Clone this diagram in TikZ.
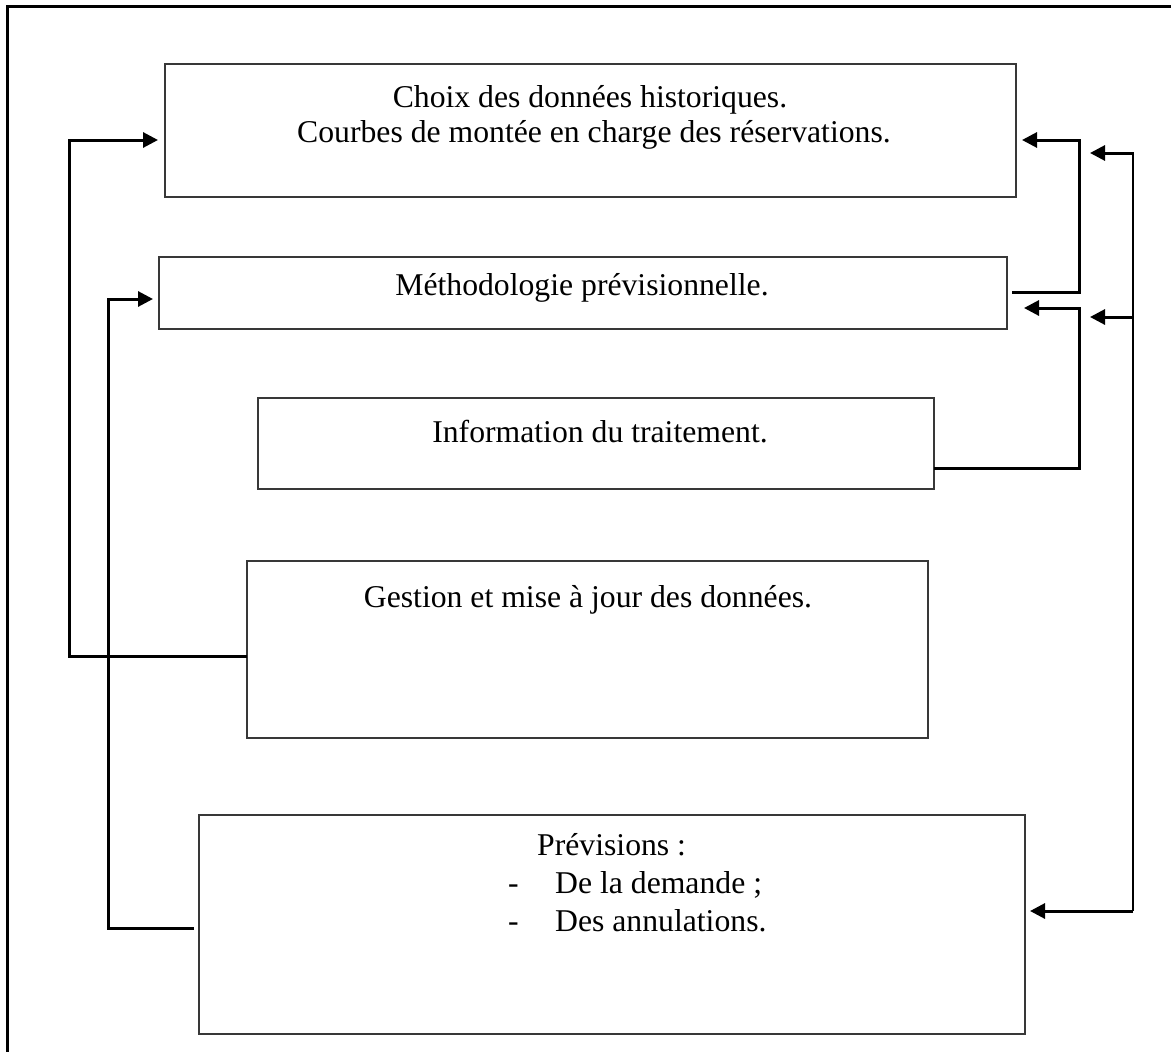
\documentclass[tikz,border=0pt]{standalone}
\usepackage{fontspec}
\setmainfont{Liberation Serif}
\usetikzlibrary{arrows.meta}
\begin{document}
\begin{tikzpicture}[x=1pt,y=-1pt,
  box/.style={draw=black!78, line width=1.6pt, inner sep=0pt, outer sep=0pt},
  conn/.style={line width=3pt, line cap=butt, line join=miter},
  arr/.style={conn, -{Triangle[length=15pt,width=15pt]}},
  thinline/.style={line width=1.8pt},
  frameline/.style={line width=3pt, line join=miter},
  lbl/.style={font=\fontsize{31.7}{37}\selectfont, anchor=base, inner sep=0pt},
  lbll/.style={lbl, anchor=base west}]
\useasboundingbox (0,0) rectangle (1171,1052);
% outer frame (only top and left visible)
\draw[frameline] (7,1052) -- (7,6.5) -- (1171,6.5);
% boxes
\node[box, minimum width=851pt, minimum height=133pt] (b1) at (590.5,130.5) {};
\node[box, minimum width=848pt, minimum height=72pt] (b2) at (583,293) {};
\node[box, minimum width=676pt, minimum height=91pt] (b3) at (596,443.5) {};
\node[box, minimum width=681pt, minimum height=177pt] (b4) at (587.5,649.5) {};
\node[box, minimum width=826pt, minimum height=219pt] (b5) at (612,924.5) {};
% texts
\node[lbl] (t1a) at (590,107) {Choix des données historiques.};
\node[lbl] (t1b) at (594,142) {Courbes de montée en charge des réservations.};
\node[lbl] (t2) at (582,295) {Méthodologie prévisionnelle.};
\node[lbl] (t3) at (600,442) {Information du traitement.};
\node[lbl] (t4) at (588,607) {Gestion et mise à jour des données.};
\node[lbll] (t5a) at (537,855) {Prévisions :};
\node[lbll] (d1) at (508,893) {-};
\node[lbll] (t5b) at (555,893) {De la demande ;};
\node[lbll] (d2) at (508,931) {-};
\node[lbll] (t5c) at (555,931) {Des annulations.};
% left connectors
\draw[arr] (b4.west |- 0,656) -| (69,140) -- ([xshift=-7pt]b1.west |- 0,140);
\draw[arr] ([xshift=-5pt]b5.west |- 0,928) -| (108,299) -- ([xshift=-6pt]b2.west |- 0,299);
% right connectors
\draw[arr] ([xshift=5pt]b2.east |- 0,292) -| (1079,140) -- ([xshift=6pt]b1.east |- 0,140);
\draw[arr] (b3.east |- 0,468) -| (1079,308) -- ([xshift=17pt]b2.east |- 0,308);
% long bracket
\coordinate (r1) at (1090,153);
\coordinate (r2) at (1090,317);
\coordinate (rtop) at (1133,153);
\coordinate (rmid) at (1133,317);
\coordinate (rbot) at (1133,911);
\draw[thinline] (rtop) -- (rbot);
\draw[arr] ([xshift=1pt]rtop) -- (r1);
\draw[arr] (rmid) -- (r2);
\draw[arr] (rbot) -- ([xshift=5pt]b5.east |- rbot);
\end{tikzpicture}
\end{document}
